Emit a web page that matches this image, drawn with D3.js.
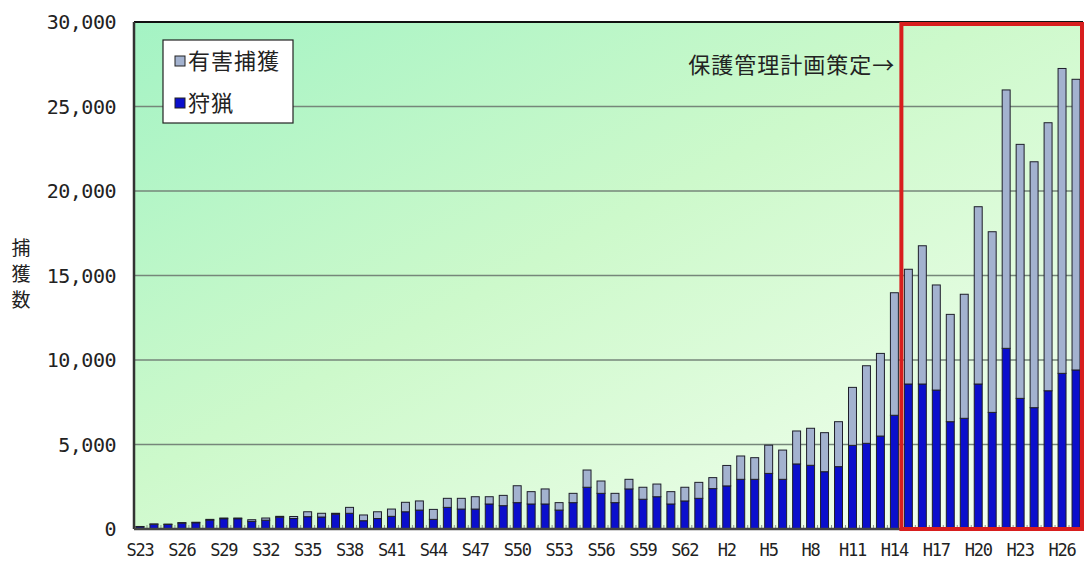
<!DOCTYPE html>
<html>
<head>
<meta charset="utf-8">
<script src="https://cdn.jsdelivr.net/npm/d3@7"></script>
<style>
  body { margin: 0; background: #ffffff; }
  svg { display: block; }
</style>
</head>
<body>
<div id="chart"></div>
<script>
// years (Showa / Heisei)
const years = [
  "S23","S24","S25","S26","S27","S28","S29","S30","S31","S32",
  "S33","S34","S35","S36","S37","S38","S39","S40","S41","S42",
  "S43","S44","S45","S46","S47","S48","S49","S50","S51","S52",
  "S53","S54","S55","S56","S57","S58","S59","S60","S61","S62",
  "S63","H1","H2","H3","H4","H5","H6","H7","H8","H9",
  "H10","H11","H12","H13","H14","H15","H16","H17","H18","H19",
  "H20","H21","H22","H23","H24","H25","H26","H27"
];
// 狩猟 (hunting)
const hunting = [
  130, 280, 270, 350, 370, 530, 610, 610, 450, 520,
  700, 620, 730, 710, 880, 930, 490, 620, 750, 1020,
  1120, 570, 1280, 1180, 1180, 1480, 1380, 1560, 1480, 1480,
  1120, 1560, 2470, 2110, 1560, 2370, 1760, 1910, 1480, 1660,
  1815, 2390, 2550, 2940, 2940, 3290, 2940, 3850, 3770, 3390,
  3690, 4950, 5070, 5500, 6730, 8580, 8580, 8220, 6350, 6550,
  8580, 6900, 10690, 7730, 7180, 8180, 9210, 9410
];
// 有害捕獲 (pest control)
const pest = [
  20, 20, 20, 30, 30, 40, 40, 40, 100, 130,
  50, 120, 290, 220, 50, 350, 340, 400, 430, 560,
  540, 590, 535, 635, 730, 430, 610, 1000, 730, 890,
  440, 550, 1020, 730, 550, 570, 710, 750, 730, 810,
  945, 650, 1210, 1380, 1280, 1670, 1730, 1950, 2190, 2310,
  2660, 3430, 4590, 4890, 7250, 6790, 8180, 6220, 6350, 7340,
  10490, 10690, 15290, 15030, 14550, 15860, 18040, 17200
];
const yTicks = [0, 5000, 10000, 15000, 20000, 25000, 30000];
const xTickLabels = ["S23","S26","S29","S32","S35","S38","S41","S44","S47","S50","S53","S56","S59","S62","H2","H5","H8","H11","H14","H17","H20","H23","H26"];
const seriesNames = ["有害捕獲", "狩猟"];
const planStart = "H15";

const W = 1089, H = 561;
const plot = {left: 134, right: 1083, top: 22, bottom: 529};

const svg = d3.select("#chart")
  .append("svg")
  .attr("width", W)
  .attr("height", H);

// background gradient
const defs = svg.append("defs");
const grad = defs.append("linearGradient")
  .attr("id", "bg")
  .attr("x1", "0%").attr("y1", "0%")
  .attr("x2", "100%").attr("y2", "100%");
grad.append("stop").attr("offset", "0%").attr("stop-color", "#a4f3c4");
grad.append("stop").attr("offset", "45%").attr("stop-color", "#cdf9cb");
grad.append("stop").attr("offset", "100%").attr("stop-color", "#f6fff2");

svg.append("rect")
  .attr("x", plot.left)
  .attr("y", plot.top)
  .attr("width", plot.right - plot.left)
  .attr("height", plot.bottom - plot.top)
  .attr("fill", "url(#bg)");

const xScale = d3.scaleBand()
  .domain(years)
  .range([plot.left - 1, plot.right])
  .paddingInner(0.43)
  .paddingOuter(0.215);

const yScale = d3.scaleLinear()
  .domain([0, 30000])
  .range([plot.bottom, plot.top]);

// gridlines
svg.append("g")
  .selectAll("line")
  .data(yTicks.filter(function(d) { return d > 0 && d < 30000; }))
  .enter()
  .append("line")
  .attr("x1", plot.left)
  .attr("x2", plot.right)
  .attr("y1", function(d) { return yScale(d); })
  .attr("y2", function(d) { return yScale(d); })
  .attr("stroke", "#76867a")
  .attr("stroke-width", 1.5);

// stacked data
const table = years.map(function(y, i) {
  return {year: y, hunting: hunting[i], pest: pest[i]};
});
const stack = d3.stack().keys(["hunting", "pest"]);
const series = stack(table);
const fills = {hunting: "#0b0fcc", pest: "#a3b2cf"};

svg.append("g")
  .selectAll("g")
  .data(series)
  .enter()
  .append("g")
  .attr("fill", function(d) { return fills[d.key]; })
  .selectAll("rect")
  .data(function(d) { return d; })
  .enter()
  .append("rect")
  .attr("x", function(d) { return xScale(d.data.year); })
  .attr("y", function(d) { return yScale(d[1]); })
  .attr("width", xScale.bandwidth())
  .attr("height", function(d) { return yScale(d[0]) - yScale(d[1]); })
  .attr("stroke", "#1e1e2a")
  .attr("stroke-width", 1);

// small inner ticks at the base
svg.append("g")
  .selectAll("line")
  .data(years.slice(1))
  .enter()
  .append("line")
  .attr("x1", function(d) { return xScale(d) - xScale.step() * xScale.paddingInner() / 2; })
  .attr("x2", function(d) { return xScale(d) - xScale.step() * xScale.paddingInner() / 2; })
  .attr("y1", plot.bottom)
  .attr("y2", plot.bottom - 4)
  .attr("stroke", "#8a948a")
  .attr("stroke-width", 1);

// axes lines
svg.append("line")
  .attr("x1", plot.left).attr("x2", plot.right)
  .attr("y1", plot.top).attr("y2", plot.top)
  .attr("stroke", "#111").attr("stroke-width", 2);
svg.append("line")
  .attr("x1", plot.left).attr("x2", plot.left)
  .attr("y1", plot.top).attr("y2", plot.bottom)
  .attr("stroke", "#333").attr("stroke-width", 2.5);
svg.append("line")
  .attr("x1", plot.left).attr("x2", plot.right)
  .attr("y1", plot.bottom).attr("y2", plot.bottom)
  .attr("stroke", "#444").attr("stroke-width", 2.5);

// y tick labels
svg.append("g")
  .selectAll("text")
  .data(yTicks)
  .enter()
  .append("text")
  .attr("x", 116)
  .attr("y", function(d) { return yScale(d); })
  .attr("dy", "0.36em")
  .attr("text-anchor", "end")
  .attr("font-family", "'DejaVu Sans Mono', monospace")
  .attr("font-size", 20)
  .attr("letter-spacing", -0.5)
  .attr("fill", "#222")
  .text(function(d) { return d3.format(",")(d); });

// x tick labels
svg.append("g")
  .selectAll("text")
  .data(xTickLabels)
  .enter()
  .append("text")
  .attr("x", function(d) { return xScale(d) + xScale.bandwidth() / 2; })
  .attr("y", 556)
  .attr("text-anchor", "middle")
  .attr("font-family", "'DejaVu Sans Mono', monospace")
  .attr("font-size", 17)
  .attr("letter-spacing", -1.2)
  .attr("fill", "#222")
  .text(function(d) { return d; });

// y axis title (vertical characters)
svg.append("g")
  .selectAll("text")
  .data(["捕", "獲", "数"])
  .enter()
  .append("text")
  .attr("x", 21)
  .attr("y", function(d, i) { return 255 + i * 26; })
  .attr("text-anchor", "middle")
  .attr("font-family", "'Noto Sans CJK JP', sans-serif")
  .attr("font-size", 19)
  .attr("fill", "#222")
  .text(function(d) { return d; });

// management plan box
const boxX = xScale(planStart) - 3;
svg.append("rect")
  .attr("x", boxX)
  .attr("y", plot.top + 2)
  .attr("width", plot.right - 1 - boxX)
  .attr("height", plot.bottom - plot.top - 2)
  .attr("fill", "none")
  .attr("stroke", "#d81e1e")
  .attr("stroke-width", 4);

svg.append("text")
  .attr("x", boxX - 6)
  .attr("y", 73)
  .attr("text-anchor", "end")
  .attr("font-family", "'Noto Sans CJK JP', sans-serif")
  .attr("font-size", 22)
  .attr("letter-spacing", 1)
  .attr("fill", "#222")
  .text("保護管理計画策定→");

// legend
const legend = svg.append("g")
  .attr("id", "legend")
  .attr("transform", "translate(163,40)");
legend.append("rect")
  .attr("width", 130)
  .attr("height", 83)
  .attr("fill", "#ffffff")
  .attr("stroke", "#222")
  .attr("stroke-width", 1.2);
const items = legend.selectAll("g.item")
  .data(seriesNames)
  .enter()
  .append("g")
  .attr("class", "item")
  .attr("transform", function(d, i) { return "translate(12," + (21 + i * 42) + ")"; });
items.append("rect")
  .attr("x", 0)
  .attr("y", -5)
  .attr("width", 10)
  .attr("height", 10)
  .attr("fill", function(d, i) { return i === 0 ? fills.pest : fills.hunting; })
  .attr("stroke", "#222")
  .attr("stroke-width", 1);
items.append("text")
  .attr("x", 13)
  .attr("y", 0)
  .attr("dy", "0.36em")
  .attr("font-family", "'Noto Sans CJK JP', sans-serif")
  .attr("font-size", 22)
  .attr("letter-spacing", 1)
  .attr("fill", "#222")
  .text(function(d) { return d; });
</script>
</body>
</html>
